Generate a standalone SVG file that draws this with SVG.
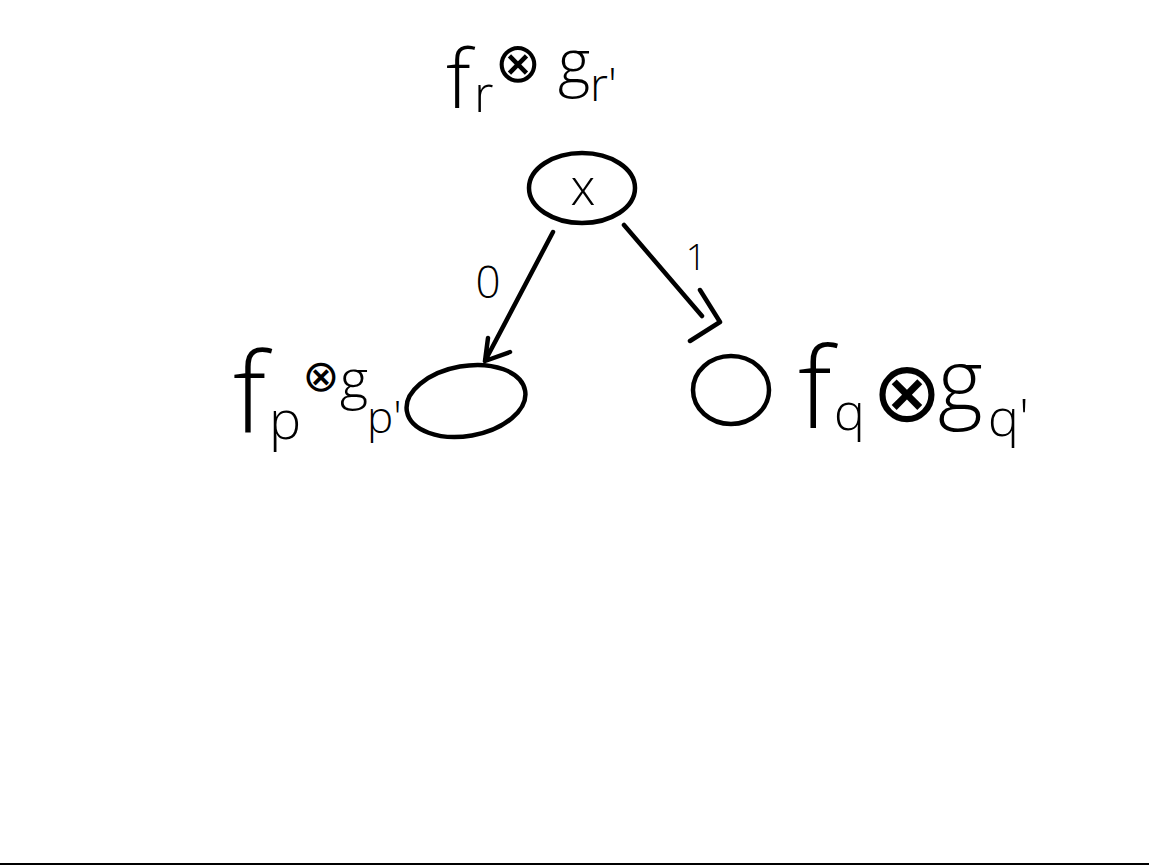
<svg xmlns="http://www.w3.org/2000/svg" width="1149" height="865" viewBox="0 0 1149 865">
<style>
.t{font-family:"Open Sans","Liberation Sans",sans-serif;font-weight:300;fill:#000}
.o{font-family:"DejaVu Sans",sans-serif;fill:#000;text-anchor:middle}
.s{fill:none;stroke:#000;stroke-width:4.5;stroke-linecap:round;stroke-linejoin:round}
</style>
<rect width="1149" height="865" fill="#fff"/>
<g id="label-top">
<text class="t" x="446" y="108" font-size="82">f</text>
<text class="t" x="474" y="112" font-size="50">r</text>
<text class="o" x="518" y="82" font-size="56">⊗</text>
<text class="t" x="558" y="84" font-size="62">g</text>
<text class="t" x="590" y="101" font-size="46">r'</text>
</g>
<g id="node-x">
<ellipse class="s" cx="582" cy="188" rx="53" ry="35"/>
<text class="t" x="583" y="205" font-size="50" text-anchor="middle">x</text>
</g>
<g id="node-left">
<ellipse class="s" cx="466" cy="401" rx="60" ry="35" transform="rotate(-10 466 401)"/>
</g>
<g id="label-left">
<text class="t" x="233" y="432" font-size="110">f</text>
<text class="t" x="269" y="439" font-size="54">p</text>
<text class="o" x="321" y="391" font-size="44">⊗</text>
<text class="t" x="340" y="398" font-size="54">g</text>
<text class="t" x="367" y="433" font-size="44">p'</text>
</g>
<g id="node-right">
<ellipse class="s" cx="731" cy="390" rx="38" ry="34"/>
</g>
<g id="label-right">
<text class="t" x="798" y="428" font-size="112">f</text>
<text class="t" x="834" y="430" font-size="52">q</text>
<text class="o" x="907" y="421" font-size="84">⊗</text>
<text class="t" x="938" y="412" font-size="86">g</text>
<text class="t" x="988" y="436" font-size="52">q'</text>
</g>
<g id="connectors">
<path class="s" d="M553 232 L485 361 M488 338 L485 361 L510 352"/>
<path class="s" d="M624 225 L702 316 M700 290 L720 322 L690 341"/>
<text class="t" x="488" y="298" font-size="44" text-anchor="middle">0</text>
<text class="t" x="696" y="270" font-size="36" text-anchor="middle">1</text>
</g>
<rect x="0" y="863" width="1149" height="2" fill="#000"/>
</svg>
